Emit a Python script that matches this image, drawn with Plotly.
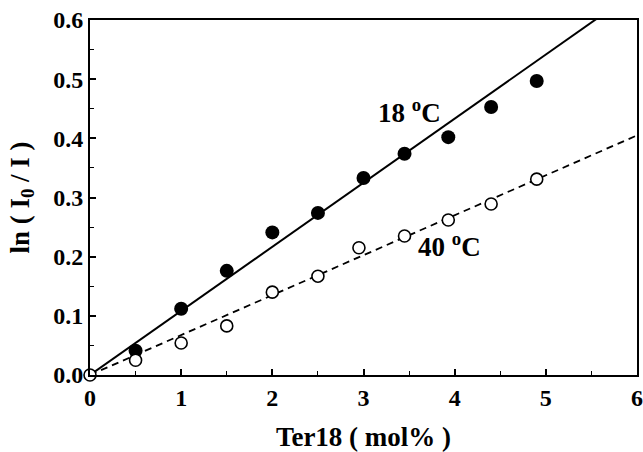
import plotly.graph_objects as go

# 18 °C (filled circles)
x18 = [0.5, 1.0, 1.5, 2.0, 2.5, 3.0, 3.45, 3.93, 4.4, 4.9]
y18 = [0.041, 0.112, 0.176, 0.241, 0.274, 0.333, 0.374, 0.402, 0.453, 0.497]
# 40 °C (open circles)
x40 = [0.0, 0.5, 1.0, 1.5, 2.0, 2.5, 2.95, 3.45, 3.93, 4.4, 4.9]
y40 = [0.0, 0.025, 0.054, 0.083, 0.140, 0.167, 0.215, 0.235, 0.262, 0.289, 0.331]
# fitted lines (end points)
fit18_x = [0.0, 6.0]
fit18_y = [0.0, 0.65]
fit40_x = [0.0, 6.0]
fit40_y = [0.0, 0.405]

xticks = [0, 1, 2, 3, 4, 5, 6]
yticks = [0.0, 0.1, 0.2, 0.3, 0.4, 0.5, 0.6]

FONT = "'Liberation Serif', 'Times New Roman', Times, serif"

fig = go.Figure()
fig.add_trace(go.Scatter(x=fit18_x, y=fit18_y, mode="lines",
                         line=dict(color="black", width=2), showlegend=False))
fig.add_trace(go.Scatter(x=fit40_x, y=fit40_y, mode="lines",
                         line=dict(color="black", width=1.8, dash="7px,5px"), showlegend=False))
fig.add_trace(go.Scatter(x=x18, y=y18, mode="markers",
                         marker=dict(symbol="circle", size=14, color="black"),
                         showlegend=False, cliponaxis=False))
fig.add_trace(go.Scatter(x=x40, y=y40, mode="markers",
                         marker=dict(symbol="circle", size=12, color="white",
                                     line=dict(color="black", width=1.6)),
                         showlegend=False, cliponaxis=False))

fig.add_annotation(x=3.5, y=0.446, text="<b>18 <sup>o</sup>C</b>", showarrow=False,
                   font=dict(family=FONT, size=27, color="black"))
fig.add_annotation(x=3.58, y=0.219, text="<b>40 <sup>o</sup>C</b>", showarrow=False,
                   xanchor="left", font=dict(family=FONT, size=27, color="black"))

axis_common = dict(showline=True, linecolor="black", linewidth=2, mirror=True,
                   ticks="inside", ticklen=6, tickwidth=1.5, tickcolor="black",
                   showgrid=False, zeroline=False, automargin=False,
                   tickfont=dict(family=FONT, size=24, color="black"))

fig.update_xaxes(range=[0, 6], tickvals=xticks,
                 ticktext=[f"<b>{v}</b>" for v in xticks],
                 minor=dict(ticks="inside", ticklen=4, tickwidth=1.2, dtick=0.5, tickcolor="black"),
                 title=dict(text="<b>Ter18 ( mol% )</b>", font=dict(family=FONT, size=27, color="black"),
                            standoff=24),
                 **axis_common)
fig.update_yaxes(range=[0, 0.6], tickvals=yticks,
                 ticktext=[f"<b>{v:.1f}</b>" for v in yticks],
                 minor=dict(ticks="inside", ticklen=4, tickwidth=1.2, dtick=0.05, tickcolor="black"),
                 title=dict(text="<b>ln ( I<sub>0</sub> / I )</b>", font=dict(family=FONT, size=27, color="black"),
                            standoff=16),
                 **axis_common)

fig.update_layout(width=643, height=452, margin=dict(l=90, r=6, t=20, b=77),
                  font=dict(family=FONT),
                  paper_bgcolor="white", plot_bgcolor="white", showlegend=False)

fig.write_html("out.html")
